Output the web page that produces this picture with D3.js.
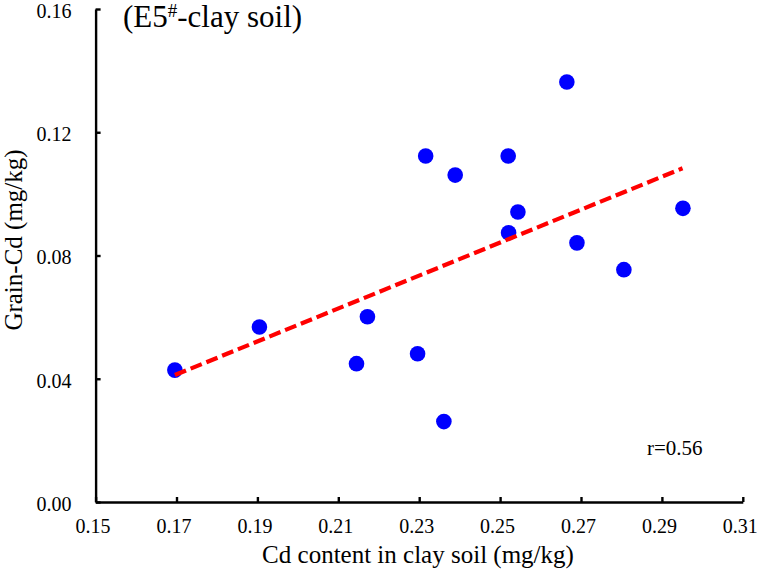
<!DOCTYPE html>
<html><head><meta charset="utf-8">
<script src="https://cdn.jsdelivr.net/npm/d3@7"></script>
</head><body style="margin:0;background:#fff">
<svg id="c" width="757" height="573" font-family="Liberation Serif" style="display:block;background:#fff"></svg>
<script>
const xVals = [0.1696,0.1905,0.2172,0.2145,0.2296,0.2361,0.2316,0.2389,0.2520,0.2544,0.2521,0.2690,0.2665,0.2806,0.2952];
const yVals = [0.0428,0.0568,0.0601,0.0449,0.0481,0.0261,0.1123,0.1061,0.1123,0.0941,0.0874,0.0841,0.1363,0.0754,0.0953];
const trendX = [0.1696,0.2951];
const trendY = [0.0412,0.1083];
const xTicks = [0.15,0.17,0.19,0.21,0.23,0.25,0.27,0.29,0.31];
const yTicks = [0.00,0.04,0.08,0.12,0.16];
const titleMain = "(E5";
const titleSup = "#";
const titleRest = "-clay soil)";
const xTitle = "Cd content in clay soil (mg/kg)";
const yTitle = "Grain-Cd (mg/kg)";
const rLabel = "r=0.56";

const FONT = "Liberation Serif";
const svg = d3.select("#c");
const L=95.6,R=742.8,T=9,B=502;
const x = d3.scaleLinear().domain([0.15,0.31]).range([L,R]);
const y = d3.scaleLinear().domain([0,0.16]).range([B,T]);

const xa = svg.append("g").attr("transform",`translate(0,${B})`)
  .call(d3.axisBottom(x).tickValues(xTicks).tickFormat(d3.format(".2f")).tickSizeInner(-5).tickSizeOuter(0));
const ya = svg.append("g").attr("transform",`translate(${L},0)`)
  .call(d3.axisLeft(y).tickValues(yTicks).tickFormat(d3.format(".2f")).tickSizeInner(-5).tickSizeOuter(0));
[xa,ya].forEach(a=>{
  a.attr("font-family",FONT).attr("font-size",20);
  a.select(".domain").attr("stroke","#000").attr("stroke-width",2.4);
  a.selectAll(".tick line").attr("stroke","#000").attr("stroke-width",2.4);
  a.selectAll(".tick text").attr("fill","#000");
});
xa.selectAll(".tick text").attr("y",31).attr("dy","0").attr("dx",-3);
ya.selectAll(".tick text").attr("x",-24).attr("dy","0.42em");

svg.append("g").selectAll("circle").data(xVals).join("circle")
  .attr("cx",(d)=>x(d)).attr("cy",(d,i)=>y(yVals[i])).attr("r",7.8).attr("fill","#0000ff");

svg.append("line")
  .attr("x1",x(trendX[0])).attr("y1",y(trendY[0]))
  .attr("x2",x(trendX[1])).attr("y2",y(trendY[1]))
  .attr("stroke","#ff0000").attr("stroke-width",4.2).attr("stroke-dasharray","12,5");

const t = svg.append("text").attr("x",123).attr("y",27).attr("font-family",FONT).attr("font-size",31);
t.append("tspan").text(titleMain);
t.append("tspan").text(titleSup).attr("dy",-10).attr("font-size",19);
t.append("tspan").text(titleRest).attr("dy",10);

svg.append("text").attr("x",418).attr("y",563).attr("text-anchor","middle").attr("font-family",FONT).attr("font-size",25).text(xTitle);
svg.append("text").attr("transform","translate(22,240) rotate(-90)").attr("text-anchor","middle").attr("font-family",FONT).attr("font-size",25).text(yTitle);
svg.append("text").attr("x",647).attr("y",455).attr("font-family",FONT).attr("font-size",21).text(rLabel);
</script></body></html>
